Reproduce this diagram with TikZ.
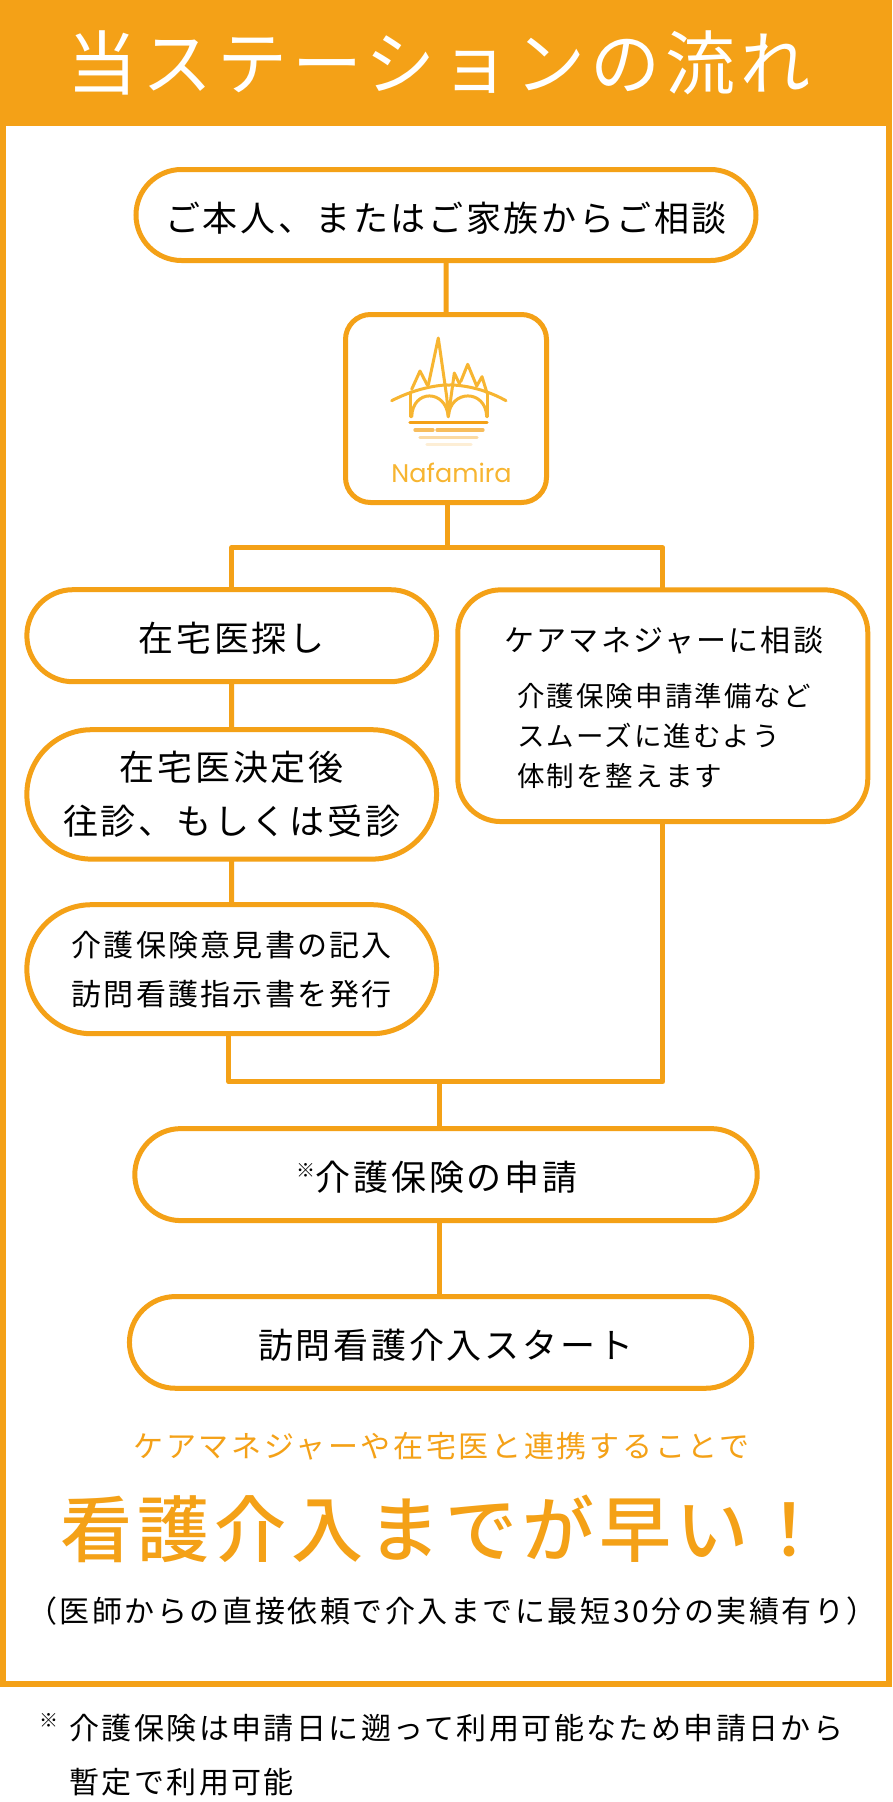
\documentclass[tikz,border=0pt]{standalone}
\usepackage{fontspec}
\setmainfont{Noto Sans CJK JP}
\newfontfamily\mediumfont{Noto Sans CJK JP Medium}
\newfontfamily\logofont{Poppins}
\usetikzlibrary{positioning,shapes.misc,calc}
\definecolor{stationorange}{RGB}{244,161,23}
\definecolor{logoorange}{RGB}{247,181,49}

\begin{document}
\begin{tikzpicture}[
    x=1pt, y=-1pt,
    bigfont/.style={font=\fontsize{35}{54}\selectfont\addfontfeature{LetterSpace=8}},
    midfont/.style={font=\fontsize{30}{49}\selectfont\addfontfeature{LetterSpace=7.5}},
    smallfont/.style={font=\fontsize{27.5}{40}\selectfont\addfontfeature{LetterSpace=7.5}},
    notefont/.style={font=\fontsize{30}{53.5}\selectfont\addfontfeature{LetterSpace=8}},
    pill/.style={rounded rectangle, draw=stationorange, line width=5pt, fill=white,
                 outer sep=0pt, inner sep=0pt, align=center, bigfont,
                 execute at begin node={\rule{0pt}{1em}}},
    conn/.style={draw=stationorange, line width=5pt, line join=round},
    logoline/.style={draw=logoorange, line width=3pt, line cap=round, line join=round},
    waterline/.style={line width=3.3pt, line cap=round}
]
\useasboundingbox (0,0) rectangle (892,1802);
\fill[white] (0,0) rectangle (892,1802);

% Header and frame
\node[anchor=north west, fill=stationorange, text=white, outer sep=0pt, inner sep=0pt,
      minimum width=892pt, minimum height=126pt,
      font=\fontsize{70}{70}\selectfont\addfontfeature{LetterSpace=7.1}] (header) at (0,0)
    {\raisebox{-5.6pt}{当ステーションの流れ}\hspace*{14pt}};
\draw[stationorange, line width=6pt] (3,126) -- (3,1684) -- (889,1684) -- (889,126);

% Joints
\coordinate (split) at (447.7,547.7);
\coordinate (merge) at (439.3,1081.8);
\coordinate (docsout) at (228.7,1034);

% Row 1: Start and logo
\node[pill, font=\fontsize{35}{54}\selectfont\addfontfeature{LetterSpace=7.5},
      minimum width=620pt, minimum height=91pt] (start) at (446,215) {ご本人、またはご家族からご相談};
\node[rectangle, draw=stationorange, line width=5pt, rounded corners=25pt, outer sep=0pt,
      minimum width=201pt, minimum height=188pt, below=54pt of start] (logo) {};

% Left column
\node[pill, minimum width=409.7pt, minimum height=92pt] (search) at (231.7,635.7) {在宅医探し};
\node[pill, minimum width=409.7pt, minimum height=129.4pt, below=48pt of search] (decide) {在宅医決定後\\往診、もしくは受診};
\node[pill, midfont, minimum width=409.7pt, minimum height=129pt, below=45.6pt of decide] (docs) {介護保険意見書の記入\\訪問看護指示書を発行};

% Right column
\node[rectangle, draw=stationorange, line width=5pt, fill=white, rounded corners=43pt, outer sep=0pt,
      minimum width=410pt, minimum height=231.7pt] (care) at (662.8,705.7) {};
\node[midfont, inner sep=0pt] (caretitle) at (663.8,640) {ケアマネジャーに相談};
\node[smallfont, inner sep=0pt, anchor=west, align=left] (carebody) at (517,736) {介護保険申請準備など\\スムーズに進むよう\\体制を整えます};

% Bottom pills
\node[pill, minimum width=622.4pt, minimum height=92pt] (apply) at (446,1174.6)
    {\raisebox{13pt}{\fontsize{19}{19}\selectfont ※}介護保険の申請\hspace*{18pt}};
\node[pill, minimum width=622.3pt, minimum height=91.7pt] (begin) at (440.6,1342.4) {\hspace*{10pt}訪問看護介入スタート};

% Connectors
\draw[conn] (start) -- (logo);
\draw[conn] (split |- logo.south) -- (split);
\draw[conn] (search.north) |- (split) -| (care.north);
\draw[conn] (search) -- (decide);
\draw[conn] (decide) -- (docs);
\draw[conn] (docsout) |- (merge) -| (care.south);
\draw[conn] (merge) -- (merge |- apply.north);
\draw[conn] (merge |- apply.south) -- (merge |- begin.north);

% Logo
\draw[logoline] (391.7,400.7) .. controls (420,386) and (445,384.7) .. (448.3,385)
    .. controls (455,384.7) and (480,386) .. (506,400.7);
\draw[logoline] (410,392) -- (410,416.7);
\draw[logoline] (487.3,392) -- (487.3,416.7);
\draw[logoline] (411.7,416.7) .. controls (412.5,389) and (446,389) .. (448.3,416.7)
    .. controls (450,389) and (486,389) .. (486.7,416.7);
\draw[logoline] (428.3,385) -- (438.3,338) -- (446.7,396.7) -- (448.3,416.7)
    -- (454.3,373) -- (460,385);
\draw[logoline] (460.7,381.7) -- (467.7,364.3) -- (476.7,386);
\draw[logoline] (476.7,386) -- (482,376.7) -- (487,393);
\draw[logoline] (411.7,389.3) -- (420,371) -- (427.3,385);
\draw[waterline, stationorange] (410,422.3) -- (487,422.3);
\draw[waterline, stationorange!70] (415,430) -- (433,430) (437,430) -- (483,430);
\draw[waterline, stationorange!40] (420,437.3) -- (446,437.3) (442,437.3) -- (477,437.3);
\draw[waterline, stationorange!18] (427,444.7) -- (471,444.7);
\node[inner sep=0pt, text=logoorange, font=\fontsize{25.5}{27}\logofont] (logoname) at (451.5,473) {Nafamira};

% Closing text
\node[inner sep=0pt, text=stationorange, font=\fontsize{30}{36}\selectfont\addfontfeature{LetterSpace=9}] (lead) at (441.5,1446) {ケアマネジャーや在宅医と連携することで};
\node[inner sep=0pt, text=stationorange, font=\fontsize{72}{72}\mediumfont\addfontfeature{LetterSpace=7}] (fast) at (443,1529) {看護介入までが早い！};
\node[inner sep=0pt, font=\fontsize{30}{49}\selectfont\addfontfeature{LetterSpace=8.5}] (direct) at (452,1610.7) {（医師からの直接依頼で介入までに最短30分の実績有り）};

% Footnote
\node[inner sep=0pt, font=\fontsize{19}{19}\selectfont] (notemark) at (48.5,1720) {※};
\node[inner sep=0pt, notefont, anchor=west, align=left] (note) at (69.4,1755) {介護保険は申請日に遡って利用可能なため申請日から\\暫定で利用可能};
\end{tikzpicture}
\end{document}
